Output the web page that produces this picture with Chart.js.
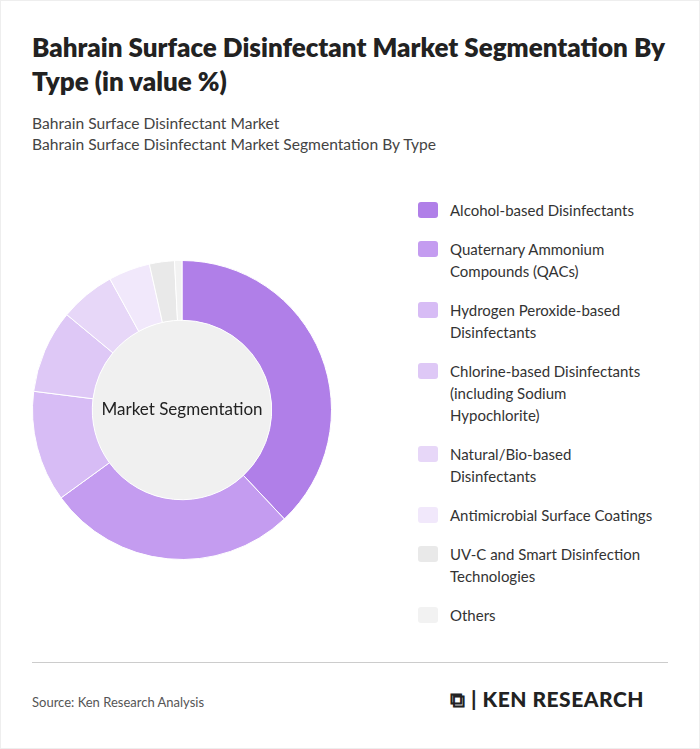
<!DOCTYPE html>
<html><head><meta charset="utf-8">
<script src="https://cdn.jsdelivr.net/npm/chart.js@4/dist/chart.umd.min.js"></script>
<style>
body{margin:0;width:700px;height:749px;background:#fff;font-family:Lato,"Open Sans",sans-serif;position:relative;overflow:hidden}
#frame{position:absolute;left:0;top:0;width:698px;height:747px;border:1px solid #eee}
h1{position:absolute;left:32px;top:30px;margin:0;width:650px;font-size:26px;line-height:34px;font-weight:800;color:#222}
.sub{position:absolute;left:32px;top:113px;font-size:15.6px;line-height:21px;color:#444}
#cw{position:absolute;left:0;top:160px;width:364px;height:500px}
#legend{position:absolute;left:418px;top:199px;width:270px}
.li{display:flex;align-items:flex-start;font-size:15px;line-height:22px;color:#333;margin-bottom:17px}
.sw{width:20px;height:16px;border-radius:3px;margin:3px 12px 0 0;flex:none}
hr{position:absolute;left:32px;top:662px;width:636px;border:0;border-top:1px solid #ccc;margin:0}
.src{position:absolute;left:32px;top:694px;font-size:13px;color:#555}
.logo{position:absolute;left:450px;top:686px;font-size:21px;font-weight:900;color:#222;letter-spacing:0.5px}
</style></head><body>
<div id="frame"></div>
<h1>Bahrain Surface Disinfectant Market Segmentation By Type (in value %)</h1>
<div class="sub">Bahrain Surface Disinfectant Market<br>Bahrain Surface Disinfectant Market Segmentation By Type</div>
<div id="cw"><canvas id="c"></canvas></div>
<div id="legend"></div>
<hr>
<div class="src">Source: Ken Research Analysis</div>
<div class="logo">⧉ | KEN RESEARCH</div>
<script>
const categories=["Alcohol-based Disinfectants","Quaternary Ammonium Compounds (QACs)","Hydrogen Peroxide-based Disinfectants","Chlorine-based Disinfectants (including Sodium Hypochlorite)","Natural/Bio-based Disinfectants","Antimicrobial Surface Coatings","UV-C and Smart Disinfection Technologies","Others"];
const legendLines=[["Alcohol-based Disinfectants"],["Quaternary Ammonium","Compounds (QACs)"],["Hydrogen Peroxide-based","Disinfectants"],["Chlorine-based Disinfectants","(including Sodium","Hypochlorite)"],["Natural/Bio-based","Disinfectants"],["Antimicrobial Surface Coatings"],["UV-C and Smart Disinfection","Technologies"],["Others"]];
const values=[38,27,12,9,6,4.5,2.7,0.8];
const colors=["#b07fe8","#c49cf0","#d7bcf5","#dec8f6","#e7d7f8","#f1e8fb","#e9e9e9","#f2f2f2"];
const lg=document.getElementById('legend');
legendLines.forEach((l,i)=>{lg.innerHTML+=`<div class="li"><div class="sw" style="background:${colors[i]}"></div><div>${l.join('<br>')}</div></div>`;});
const center={id:'center',beforeDatasetsDraw(ch){const m=ch.getDatasetMeta(0).data[0];const c=ch.ctx;c.save();c.beginPath();c.arc(m.x,m.y,m.innerRadius,0,Math.PI*2);c.fillStyle='#f0f0f0';c.fill();c.restore();},
afterDatasetsDraw(ch){const m=ch.getDatasetMeta(0).data[0];const c=ch.ctx;c.save();c.font='17px Lato';c.fillStyle='#222';c.textAlign='center';c.textBaseline='middle';c.fillText('Market Segmentation',m.x,m.y);c.restore();}};
new Chart(document.getElementById('c'),{type:'doughnut',data:{labels:categories,datasets:[{data:values,backgroundColor:colors,borderColor:'#fff',borderWidth:1}]},
options:{responsive:true,maintainAspectRatio:false,animation:false,cutout:'60%',layout:{padding:{top:100,bottom:100,left:32,right:32}},plugins:{legend:{display:false},tooltip:{enabled:false}}},plugins:[center]});
</script>
</body></html>
